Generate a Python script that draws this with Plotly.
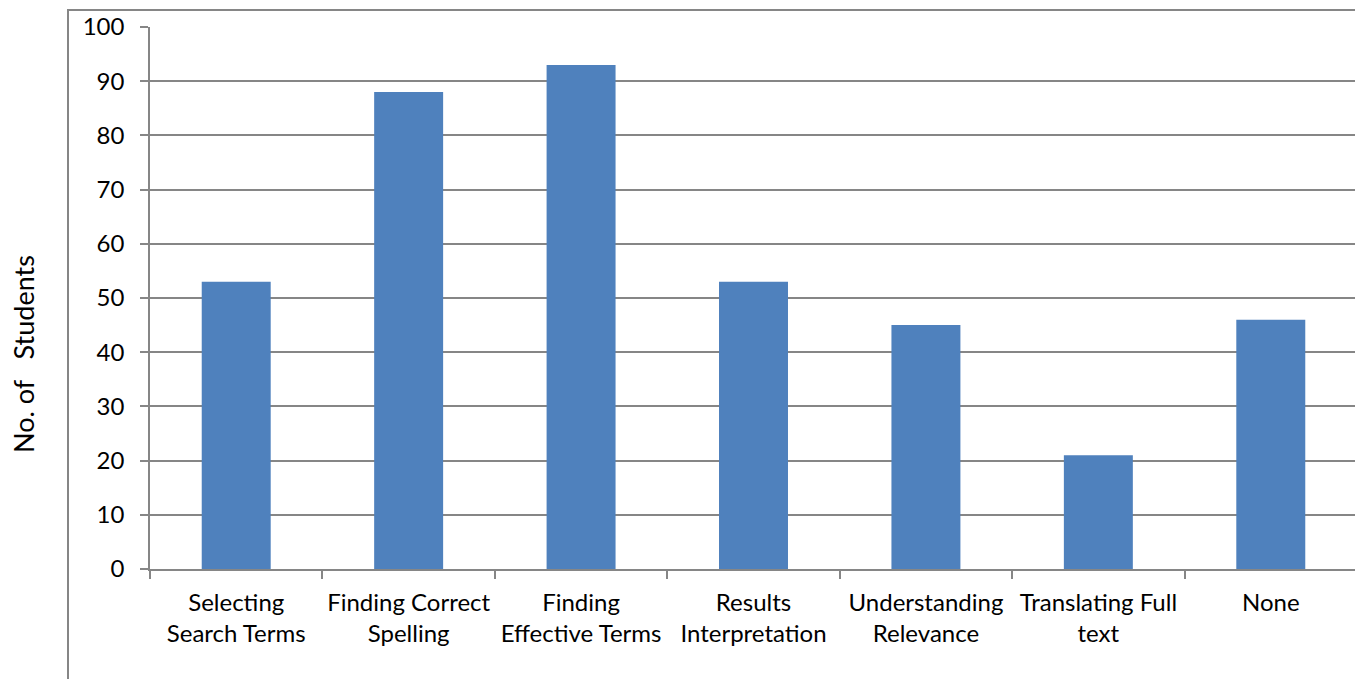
import plotly.graph_objects as go

categories = ["Selecting<br>Search Terms", "Finding Correct<br>Spelling", "Finding<br>Effective Terms",
              "Results<br>Interpretation", "Understanding<br>Relevance", "Translating Full<br>text", "None"]
values = [53, 88, 93, 53, 45, 21, 46]
y_ticks = list(range(0, 101, 10))

FONT = "Lato"
OFF = 8  # browser body margin
W, H = 1355, 671
L, R, T, B = 142, 6, 19, 110
pw = W - L - R
ph = H - T - B

fig = go.Figure(go.Bar(x=categories, y=values, marker=dict(color="#4F81BD", line=dict(width=0)), width=0.4))

fig.update_layout(
    width=W, height=H,
    margin=dict(l=L, r=R, t=T, b=B, autoexpand=False),
    plot_bgcolor="white", paper_bgcolor="white",
    font=dict(family=FONT, size=24, color="black"),
    showlegend=False,
    bargap=0.6,
)
fig.update_xaxes(
    type="category", showgrid=False, showline=True, linecolor="#868686", linewidth=1.5,
    ticks="outside", tickson="boundaries", ticklen=8, tickcolor="#868686", tickwidth=1.5,
    tickfont=dict(family=FONT, size=24), tickangle=0, automargin=False, ticklabelstandoff=11,
)
fig.update_yaxes(
    range=[0, 100], tickvals=y_ticks, showgrid=True, gridcolor="#868686", gridwidth=1.5,
    showline=True, linecolor="#868686", linewidth=1.5, zeroline=False,
    ticks="outside", ticklen=8, tickcolor="#868686", tickwidth=1.5,
    tickfont=dict(family=FONT, size=24), ticklabelstandoff=11, automargin=False,
)
fig.add_shape(type="rect", xref="paper", yref="paper",
              x0=(68 - OFF - L) / pw, x1=(1358 - OFF - L) / pw,
              y0=-(B + 10) / ph, y1=1 + 17 / ph,
              line=dict(color="#868686", width=2), fillcolor="rgba(0,0,0,0)", layer="below")
fig.add_annotation(text="No. of\u00a0\u00a0\u00a0Students", xref="paper", yref="paper",
                   x=(24 - OFF - L) / pw, y=(569 - 354) / ph, textangle=-90, showarrow=False,
                   font=dict(family=FONT, size=27), xanchor="center", yanchor="middle",
                   borderpad=0, borderwidth=0)

fig.write_html("out.html")
